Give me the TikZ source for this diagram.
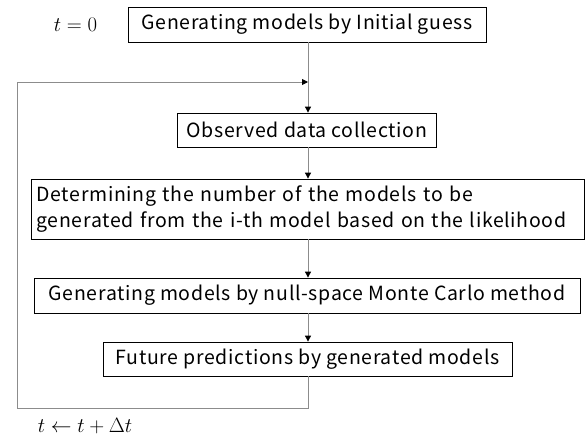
\documentclass[tikz,border=0pt]{standalone}
\usepackage{fontspec}
\setmainfont{Noto Sans CJK JP}[LetterSpace=3.5]
\usetikzlibrary{arrows.meta}
\definecolor{linkgray}{gray}{0.55}
\begin{document}
\begin{tikzpicture}[x=1pt,y=-1pt,
  stepbox/.style={draw=black,line width=0.8pt,inner sep=0pt,
    font=\fontsize{19.5}{26.7}\selectfont},
  link/.style={draw=linkgray,line width=0.9pt,
    -{Triangle[length=6pt,width=6pt,fill=black,color=black]}},
  mathlabel/.style={font=\fontsize{20.5}{23}\selectfont}]
\useasboundingbox (0,0) rectangle (586,439);

% process boxes
\node[stepbox,minimum width=358pt,minimum height=35pt] (init) at (307,24.5)
  {Generating models by Initial guess};
\node[stepbox,minimum width=259pt,minimum height=34pt] (obs) at (307,130)
  {Observed data collection};
\node[stepbox,minimum width=553pt,minimum height=60pt,text width=542pt,
  align=left,inner xsep=5.5pt] (num) at (307.5,209)
  {Determining the number of the models to be\\generated from the i-th model based on the likelihood};
\node[stepbox,minimum width=546pt,minimum height=35pt] (nsmc) at (307,295.5)
  {Generating models by null-space Monte Carlo method};
\node[stepbox,minimum width=409pt,minimum height=34pt] (pred) at (307.5,359)
  {Future predictions by generated models};

% time labels
\node[mathlabel] (tzero) at (75.5,24.5) {$t=0$};
\node[mathlabel] (tstep) at (85,426) {$t\leftarrow t+\Delta t$};

% main flow
\coordinate (join) at (308,82);
\draw[link] (init.south -| join) -- (obs.north -| join);
\draw[link] (obs.south -| join) -- (num.north -| join);
\draw[link] (num.south -| join) -- (nsmc.north -| join);
\draw[link] (nsmc.south -| join) -- (pred.north -| join);

% feedback loop
\coordinate (loopbr) at (308,408);
\coordinate (loopbl) at (17,408);
\coordinate (looptl) at (17,82);
\draw[link] (pred.south -| join) -- (loopbr) -- (loopbl) -- (looptl) -- (join);
\end{tikzpicture}
\end{document}
